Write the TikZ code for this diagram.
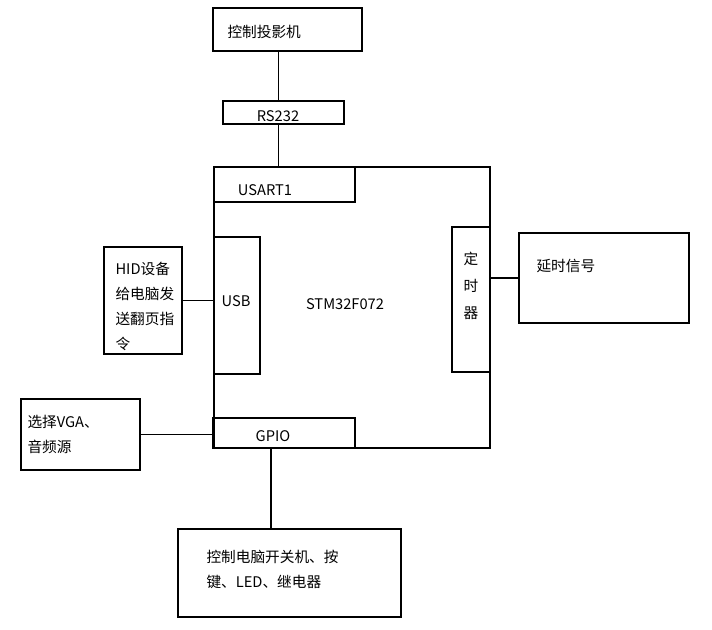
\documentclass[tikz,border=0pt]{standalone}
\usepackage{fontspec}
\setmainfont{Noto Sans CJK SC}

\begin{document}
\begin{tikzpicture}[x=0.75pt,y=-0.75pt,line width=0.8pt,
	box/.style={rectangle, draw, line width=0.8pt, inner sep=0},
	lbl/.style={inner sep=0, font=\fontsize{11}{18.75}\selectfont, align=left}]
		
		\useasboundingbox (0,0) rectangle (712,630);
		
		% Frames
		
		\node[box, minimum width=207pt, minimum height=210.75pt] 
		(mcu) at (352,307.5) {};
		
		\node[box, minimum width=111.75pt, minimum height=32.25pt] 
		(proj) at (287.5,29.5) {};
		
		\node[box, minimum width=90.75pt, minimum height=17.25pt] 
		(rs232) at (283.5,112.5) {};
		
		\node[box, minimum width=105.75pt, minimum height=26.25pt] 
		(usart) at (284.5,184.5) {};
		
		\node[box, minimum width=34.5pt, minimum height=102.75pt] 
		(usb) at (237,305.5) {};
		
		\node[box, minimum width=28.5pt, minimum height=108.75pt] 
		(timer) at (471,299.5) {};
		
		\node[box, minimum width=106.5pt, minimum height=22.5pt] 
		(gpio) at (284,433) {};
		
		\node[box, minimum width=127.5pt, minimum height=67.5pt] 
		(delay) at (604,278) {};
		
		\node[box, minimum width=58.5pt, minimum height=80.25pt] 
		(hid) at (143,300.5) {};
		
		\node[box, minimum width=89.25pt, minimum height=53.25pt] 
		(vga) at (80.5,434.5) {};
		
		\node[box, minimum width=167.25pt, minimum height=66pt] 
		(ctrl) at (289.5,573) {};
		
		% Texts
		
		\node[lbl, anchor=west] (projText) at (227,32) {控制投影机};
		\node[lbl] (rsText) at (278,116) {RS232};
		\node[lbl] (usartText) at (265,190) {USART1};
		\node[lbl] (usbText) at (236,301) {USB};
		\node[lbl] (mcuText) at (345,304) {STM32F072};
		\node[lbl, align=center, font=\fontsize{11}{20}\selectfont] (timerText) at (471,286) {定\\时\\器};
		\node[lbl] (gpioText) at (273,436) {GPIO};
		\node[lbl, anchor=west] (delayText) at (536,266) {延时信号};
		\node[lbl, anchor=west] (hidText) at (115,306) {HID设备\\给电脑发\\送翻页指\\令};
		\node[lbl, anchor=west] (vgaText) at (27,434) {选择VGA、\\音频源};
		\node[lbl, anchor=west] (ctrlText) at (206,569) {控制电脑开关机、按\\键、LED、继电器};
		
		% Edges
		
		\draw ([xshift=-4pt]rs232.north) -- ([xshift=-4pt]rs232.north |- proj.south);
		\draw ([xshift=-4pt]rs232.south) -- ([xshift=-4pt]rs232.south |- mcu.north);
		\draw (hid.east) -- (hid.east -| usb.west);
		\draw (delay.west) -- (delay.west -| timer.east);
		\draw (vga.east) -- (vga.east -| gpio.west);
		\draw ([xshift=-9.75pt]gpio.south) -- ([xshift=-9.75pt]gpio.south |- ctrl.north);
		
	\end{tikzpicture}
\end{document}
